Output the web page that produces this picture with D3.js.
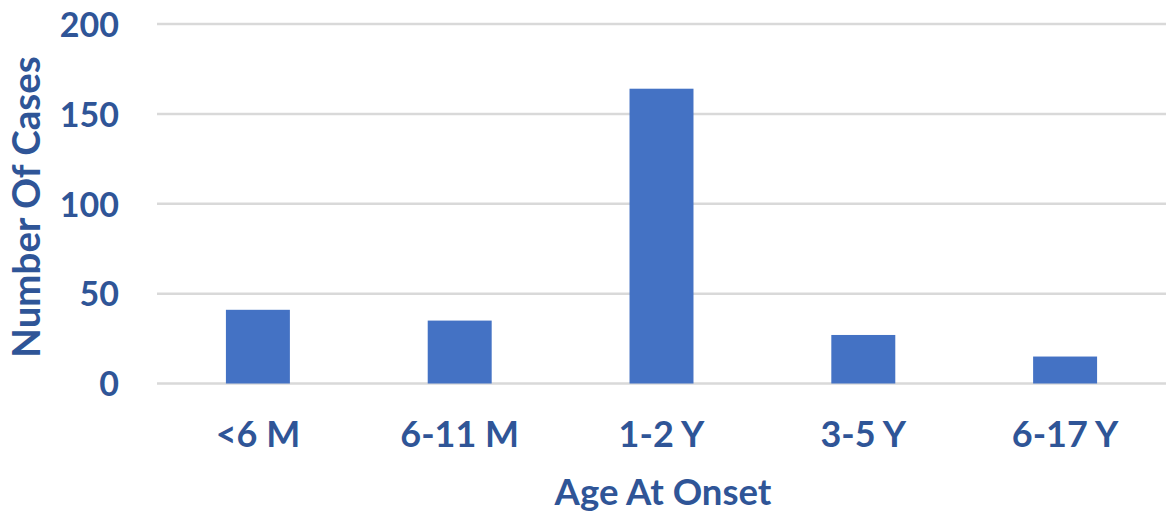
<!DOCTYPE html>
<html>
<head>
<meta charset="utf-8">
<script src="https://cdn.jsdelivr.net/npm/d3@7"></script>
<style>
  html, body { margin: 0; padding: 0; background: #fff; }
  svg { display: block; }
  text { font-family: Lato, "Open Sans", sans-serif; font-weight: bold; fill: #2F5597; }
</style>
</head>
<body>
<svg id="chart" width="1168" height="514"></svg>
<script>
const categories = ["<6 M", "6-11 M", "1-2 Y", "3-5 Y", "6-17 Y"];
const cases = [41, 35, 164, 27, 15];
const yTicks = [0, 50, 100, 150, 200];
const xTitle = "Age At Onset";
const yTitle = "Number Of Cases";

const W = 1168, H = 514;
const margin = { left: 157, right: 2, top: 24, bottom: 131 };
const svg = d3.select("#chart");

const x = d3.scaleBand()
  .domain(categories)
  .range([margin.left, W - margin.right])
  .paddingInner(0.683)
  .paddingOuter(0.3415);

const y = d3.scaleLinear()
  .domain([0, 200])
  .range([H - margin.bottom + 0.5, margin.top]);

// gridlines
svg.append("g")
  .selectAll("line")
  .data(yTicks)
  .join("line")
  .attr("x1", margin.left)
  .attr("x2", W - margin.right)
  .attr("y1", d => y(d))
  .attr("y2", d => y(d))
  .attr("stroke", "#d9d9d9")
  .attr("stroke-width", 2.5);

// bars
svg.append("g")
  .selectAll("rect")
  .data(categories)
  .join("rect")
  .attr("x", d => x(d))
  .attr("width", x.bandwidth())
  .attr("y", (d, i) => y(cases[i]))
  .attr("height", (d, i) => y(0) - y(cases[i]))
  .attr("fill", "#4472C4");

// y axis labels
const yAxis = d3.axisLeft(y).tickValues(yTicks).tickSize(0).tickPadding(0);
const gy = svg.append("g")
  .attr("transform", `translate(119,0)`)
  .call(yAxis);
gy.select(".domain").remove();
gy.selectAll("text")
  .attr("font-size", 34)
  .attr("font-family", "Lato, 'Open Sans', sans-serif")
  .attr("font-weight", "bold")
  .attr("fill", "#2F5597")
  .attr("dy", "0.36em");

// x axis labels
const xAxis = d3.axisBottom(x).tickSize(0).tickPadding(0);
const gx = svg.append("g")
  .attr("transform", `translate(0,447)`)
  .call(xAxis);
gx.select(".domain").remove();
gx.selectAll("text")
  .attr("font-size", 36)
  .attr("font-family", "Lato, 'Open Sans', sans-serif")
  .attr("font-weight", "bold")
  .attr("fill", "#2F5597")
  .attr("dy", 0)
  .attr("y", 0);

// axis titles
svg.append("text")
  .attr("x", 663)
  .attr("y", 505)
  .attr("text-anchor", "middle")
  .attr("font-size", 36.5)
  .text(xTitle);

svg.append("text")
  .attr("transform", "translate(40,207) rotate(-90)")
  .attr("text-anchor", "middle")
  .attr("font-size", 38.5)
  .text(yTitle);
</script>
</body>
</html>
